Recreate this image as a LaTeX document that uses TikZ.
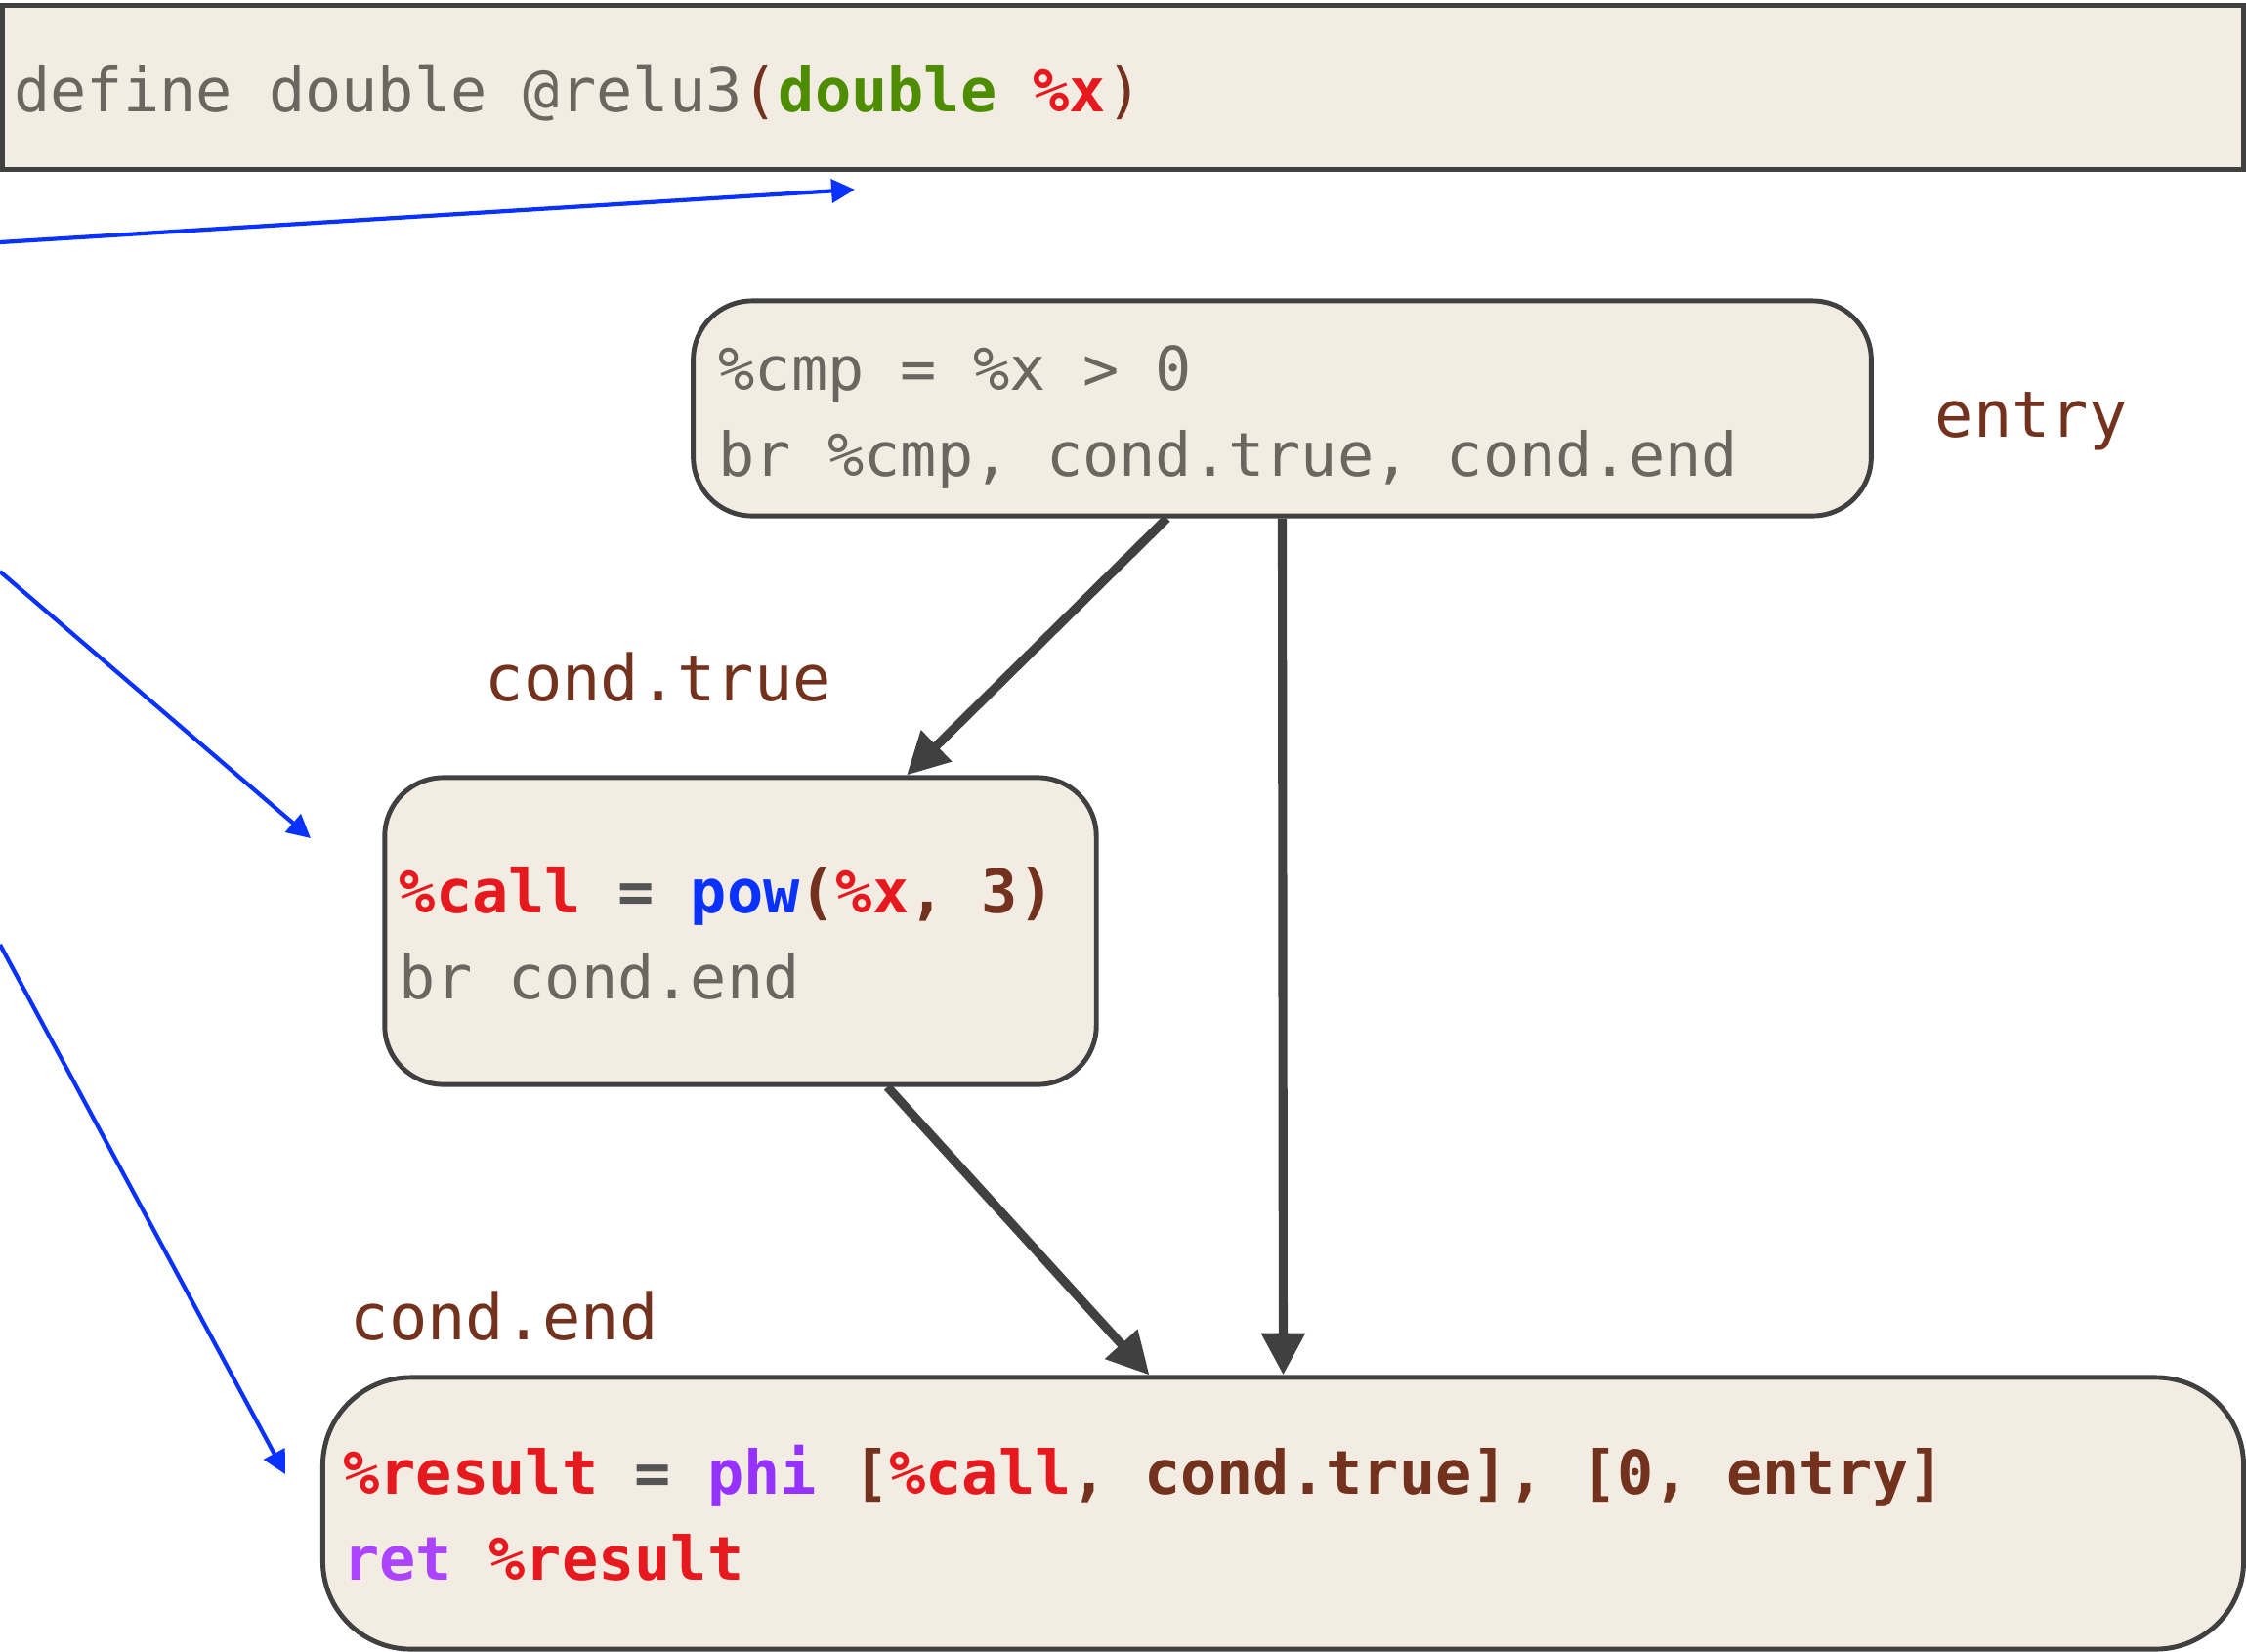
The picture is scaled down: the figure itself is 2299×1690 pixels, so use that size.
\documentclass[tikz,border=0pt]{standalone}
\usepackage{fontspec}
\newfontfamily\codefont{DejaVu Sans Mono}
\newfontfamily\labelfont{DejaVu Sans Mono}
\usetikzlibrary{arrows.meta, positioning, calc}

\definecolor{blockfill}{RGB}{242,236,227}
\definecolor{edgegray}{RGB}{64,64,64}
\definecolor{irgray}{RGB}{107,102,96}
\definecolor{eqgray}{RGB}{85,85,85}
\definecolor{irbrown}{RGB}{115,50,30}
\definecolor{irred}{RGB}{230,25,30}
\definecolor{irgreen}{RGB}{78,140,0}
\definecolor{irblue}{RGB}{10,50,255}
\definecolor{irpurple}{RGB}{150,50,255}
\definecolor{retpurple}{RGB}{172,68,255}
\definecolor{useblue}{RGB}{10,50,255}

% code text: one character wide spaces
\newcommand\codesize{\codefont\fontsize{17.6pt}{25pt}\selectfont}
\newcommand\codespaces{\spaceskip=\fontcharwd\font`0\relax\xspaceskip=\spaceskip}

\newcommand\irreg[1]{\textcolor{irred}{\bfseries #1}}
\newcommand\irfunc[1]{\textcolor{irblue}{\bfseries #1}}
\newcommand\irtype[1]{\textcolor{irgreen}{\bfseries #1}}
\newcommand\irarg[1]{\textcolor{irbrown}{\bfseries #1}}
\newcommand\ireq{\textcolor{eqgray}{\bfseries =}}

\tikzset{
  block/.style={draw=edgegray, line width=1.4pt, fill=blockfill, rounded corners=0.6cm,
    align=left, inner ysep=0pt, text=irgray, font=\codesize\frenchspacing,
    execute at begin node=\codespaces},
  blocklabel/.style={text=irbrown, inner sep=0pt, anchor=base west,
    font=\labelfont\fontsize{18.6pt}{22pt}\selectfont},
  flow/.style={-{Triangle[length=12.2pt,width=12.2pt]}, draw=edgegray, line width=2.6pt},
  useedge/.style={-{Triangle[length=6.8pt,width=6.8pt]}, draw=useblue, line width=1.2pt},
}

\begin{document}
\begin{tikzpicture}[x=0.01cm, y=-0.01cm]
    \useasboundingbox (0,0) rectangle (2299,1690);

    % function header
    \node[block, rounded corners=0pt, minimum width=22.93cm, minimum height=1.67cm,
          inner xsep=0.12cm, text width=22.69cm] (fn) at (1149.5,89.5)
        {\rule{0pt}{0.6cm}define double @relu3\textcolor{irbrown}{(}\irtype{double} \irreg{\%x}\textcolor{irbrown}{)}};

    % basic blocks
    \node[block, minimum width=12.05cm, minimum height=2.2cm,
          inner xsep=0.26cm, text width=11.53cm] (entry) at (1312.5,418)
        {\rule{0pt}{0.63cm}\%cmp = \%x > 0\\br \%cmp, cond.true, cond.end};
    \node[block, minimum width=7.28cm, minimum height=3.14cm,
          inner xsep=0.15cm, text width=6.98cm] (ctrue) at (758,953)
        {\rule{0pt}{0.52cm}\irreg{\%call} \ireq{} \irfunc{pow}\irarg{(}\irreg{\%x}\irarg{, 3)}\\br cond.end};
    \node[block, rounded corners=0.9cm, minimum width=19.65cm, minimum height=2.78cm,
          inner xsep=0.21cm, text width=19.23cm] (cend) at (1313.5,1549)
        {\irreg{\%result} \ireq{} \textcolor{irpurple}{\bfseries phi} \irarg{[}\irreg{\%call}\irarg{, cond.true], [0, entry]}\\
         \textcolor{retpurple}{\bfseries ret} \irreg{\%result}};

    % block names
    \node[blocklabel] (lentry) at (1980,447) {entry};
    \node[blocklabel] (lctrue) at (496,717) {cond.true};
    \node[blocklabel] (lcend) at (358,1371) {cond.end};

    % control flow
    \draw[flow] ($(entry.south west)!0.4025!(entry.south east)$) -- ($(ctrue.north west)!0.732!(ctrue.north east)$);
    \draw[flow] (entry.south) -- (cend.north);
    \draw[flow] ($(ctrue.south west)!0.705!(ctrue.south east)$) -- ($(cend.north west)!0.4305!(cend.north east)$);

    % uses of %x
    \coordinate (u1s) at (0,248);
    \coordinate (u1e) at (875,194);
    \coordinate (u2s) at (0,585);
    \coordinate (u2e) at (318,858);
    \coordinate (u3s) at (0,967);
    \coordinate (u3e) at (292,1509);
    \draw[useedge] (u1s) -- (u1e);
    \draw[useedge] (u2s) -- (u2e);
    \draw[useedge] (u3s) -- (u3e);
\end{tikzpicture}
\end{document}
